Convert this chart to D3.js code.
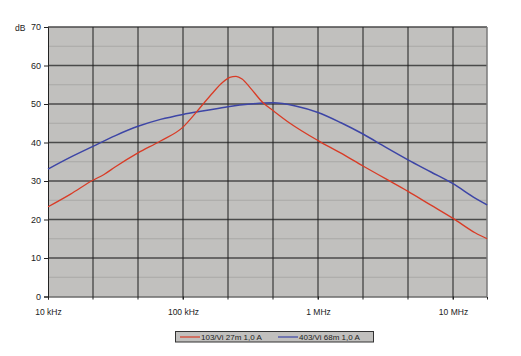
<!DOCTYPE html>
<html><head><meta charset="utf-8">
<script src="https://cdn.jsdelivr.net/npm/d3@7"></script>
<style>body{margin:0;background:#fff}svg{display:block;font-family:"Liberation Sans",Arial,sans-serif}</style>
</head><body><svg id="c" width="521" height="356"></svg>
<script>
// frequencies in kHz
const freqs = [10, 14.7, 21.5, 31.6, 46.4, 68.1, 100, 147, 215, 316, 464, 681, 1000, 1468, 2154, 3162, 4642, 6813, 10000, 14678, 17900];
const blueValues = [33.1, 36.2, 39.0, 41.8, 44.2, 46.0, 47.3, 48.3, 49.3, 50.0, 50.3, 49.5, 47.8, 45.2, 42.2, 38.8, 35.5, 32.4, 29.3, 25.5, 23.8];
const redFreqs = [10, 14.7, 21.5, 26, 31.6, 46.4, 68.1, 100, 123, 141, 167, 195, 222, 247, 274, 315, 392, 464, 620, 1000, 1468, 2154, 3162, 4642, 6813, 10000, 14678, 17900];
const redValues = [23.3, 26.6, 30.2, 31.7, 33.7, 37.3, 40.4, 44.0, 47.5, 50.0, 53.0, 55.5, 56.9, 57.2, 56.5, 54.2, 50.3, 48.3, 45.0, 40.5, 37.3, 33.9, 30.6, 27.3, 23.8, 20.3, 16.5, 15.0];
const yTicks = [0, 10, 20, 30, 40, 50, 60, 70];
const xTickFreqs = [10, 100, 1000, 10000];
const xTickLabels = ["10 kHz", "100 kHz", "1 MHz", "10 MHz"];
const seriesNames = ["103/Vi 27m 1,0 A", "403/Vi 68m 1,0 A"];
const colors = ["#d93b26", "#3d45a6"];

const svg = d3.select("#c");
const L = 48, R = 487, T = 27, B = 296.5;
const x = d3.scaleLog().domain([10, 10 * Math.pow(10, (R - L) / 135)]).range([L, R]);
const y = d3.scaleLinear().domain([0, 70]).range([B, T]);

svg.append("rect").attr("x", L).attr("y", T).attr("width", R - L).attr("height", B - T).attr("fill", "#c1c0be");

// minor horizontal grid
const minor = d3.range(5, 70, 10);
svg.append("g").selectAll("line").data(minor).join("line")
  .attr("x1", L).attr("x2", R).attr("y1", d => y(d)).attr("y2", d => y(d))
  .attr("stroke", "#a9a8a6").attr("stroke-width", 1);
// major horizontal grid
svg.append("g").selectAll("line").data(yTicks.slice(1)).join("line")
  .attr("x1", L).attr("x2", R).attr("y1", d => y(d)).attr("y2", d => y(d))
  .attr("stroke", "#4a4a4a").attr("stroke-width", 1.6);
// vertical grid (3 per decade)
const vgrid = d3.range(1, 10).map(k => 10 * Math.pow(10, k / 3));
svg.append("g").selectAll("line").data(vgrid).join("line")
  .attr("x1", d => x(d)).attr("x2", d => x(d)).attr("y1", T).attr("y2", B + 3)
  .attr("stroke", "#1e1e1e").attr("stroke-width", 1);
// right border
svg.append("line").attr("x1", R).attr("x2", R).attr("y1", T).attr("y2", B).attr("stroke", "#7a7a7a").attr("stroke-width", 1.5);

// axes
const ya = svg.append("g").attr("transform", `translate(${L},0)`)
  .call(d3.axisLeft(y).tickValues(yTicks).tickSize(4).tickPadding(3));
ya.select(".domain").attr("stroke", "#222");
ya.selectAll("line").attr("stroke", "#222");
ya.selectAll("text").attr("font-size", 9).attr("fill", "#222").style("font-family", "Liberation Sans, Arial, sans-serif");
const xa = svg.append("g").attr("transform", `translate(0,${B})`)
  .call(d3.axisBottom(x).tickValues(xTickFreqs).tickFormat((d, i) => xTickLabels[i]).tickSize(3).tickPadding(9));
xa.select(".domain").attr("stroke", "#222");
xa.selectAll("line").attr("stroke", "#222");
xa.selectAll("text").attr("font-size", 8.5).attr("fill", "#222").style("font-family", "Liberation Sans, Arial, sans-serif");

svg.append("text").attr("x", 15).attr("y", 30.5).attr("font-size", 8.5).attr("fill", "#222").text("dB");

const line = d3.line().x(d => x(d[0])).y(d => y(d[1])).curve(d3.curveMonotoneX);
const redData = redFreqs.map((f, i) => [f, redValues[i]]);
const blueData = freqs.map((f, i) => [f, blueValues[i]]);
svg.append("path").datum(blueData).attr("d", line).attr("fill", "none").attr("stroke", colors[1]).attr("stroke-width", 1.5);
svg.append("path").datum(redData).attr("d", line).attr("fill", "none").attr("stroke", colors[0]).attr("stroke-width", 1.3);

// legend
const lg = svg.append("g");
lg.append("rect").attr("x", 175.5).attr("y", 331.5).attr("width", 198).attr("height", 10.5)
  .attr("fill", "#c1c0be").attr("stroke", "#333").attr("stroke-width", 1);
const lx = [180, 278];
seriesNames.forEach((n, i) => {
  lg.append("line").attr("x1", lx[i]).attr("x2", lx[i] + 20).attr("y1", 337).attr("y2", 337).attr("stroke", colors[i]).attr("stroke-width", 1.2);
  lg.append("text").attr("x", lx[i] + 21).attr("y", 340).attr("font-size", 8).attr("fill", "#222").text(n);
});
</script></body></html>
